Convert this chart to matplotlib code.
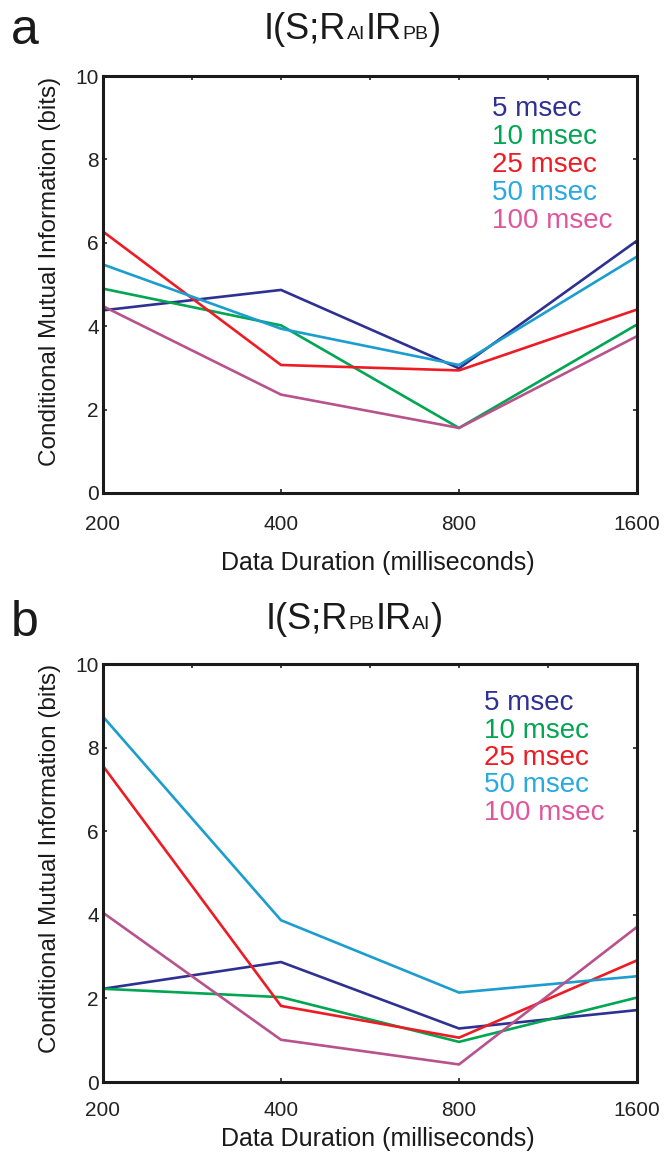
import matplotlib
matplotlib.use("Agg")
import matplotlib.pyplot as plt
from matplotlib.ticker import FixedLocator

plt.rcParams['font.family'] = ['Liberation Sans', 'DejaVu Sans']

durations = ["200", "400", "800", "1600"]
series_names = ["5 msec", "10 msec", "25 msec", "50 msec", "100 msec"]

# panel a: I(S;R_AI | R_PB)
a_5 = [4.38, 4.87, 2.99, 6.05]
a_10 = [4.90, 4.02, 1.56, 4.04]
a_25 = [6.27, 3.07, 2.94, 4.40]
a_50 = [5.48, 3.94, 3.07, 5.67]
a_100 = [4.48, 2.36, 1.56, 3.76]

# panel b: I(S;R_PB | R_AI)
b_5 = [2.23, 2.87, 1.28, 1.72]
b_10 = [2.23, 2.03, 0.96, 2.02]
b_25 = [7.56, 1.82, 1.06, 2.91]
b_50 = [8.74, 3.87, 2.14, 2.53]
b_100 = [4.05, 1.01, 0.42, 3.71]

line_colors = ["#2e3192", "#00a651", "#ed1c24", "#1b9dd0", "#b8528c"]
text_colors = ["#2e3192", "#00a651", "#ed1c24", "#27a9e1", "#e0569c"]

W, H = 670, 1152
fig = plt.figure(figsize=(W / 100, H / 100), dpi=100)


def fx(px):
    return px / W


def fy(py):
    return 1 - py / H


def make_axes(top, bottom, left, right, data, leg_x, leg_y0, leg_dy, xpad):
    ax = fig.add_axes([fx(left), fy(bottom), fx(right) - fx(left), fy(top) - fy(bottom)])
    xs = list(range(len(durations)))
    for vals, c in zip(data, line_colors):
        ax.plot(xs, vals, color=c, lw=1.9, solid_joinstyle='miter')
    ax.set_xlim(0, 3)
    ax.set_ylim(0, 10)
    ax.set_xticks(xs)
    ax.set_xticklabels(durations)
    ax.set_yticks([0, 2, 4, 6, 8, 10])
    ax.xaxis.set_minor_locator(FixedLocator([0.5, 1.5, 2.5]))
    ax.tick_params(axis='both', which='major', direction='in', length=3, width=1.2,
                   labelsize=15, colors='#222222', top=True, right=True)
    ax.tick_params(axis='x', which='minor', direction='in', length=3, width=1.2,
                   bottom=False, top=True, colors='#222222')
    ax.tick_params(axis='y', pad=3)
    ax.tick_params(axis='x', pad=xpad)
    for s in ax.spines.values():
        s.set_linewidth(2.2)
        s.set_color('#1a1a1a')
    for i, (name, c) in enumerate(zip(series_names, text_colors)):
        fig.text(fx(leg_x), fy(leg_y0 + i * leg_dy), name, color=c, fontsize=20,
                 ha='left', va='center')
    return ax


def draw_title(x_start, y_base, parts):
    renderer = fig.canvas.get_renderer()
    x = x_start
    for txt, small in parts:
        size = 14 if small else 26
        t = fig.text(fx(x), fy(y_base), txt, fontsize=size, ha='left',
                     va='baseline', color='#1a1a1a')
        bb = t.get_window_extent(renderer=renderer)
        x += bb.width + 0.5


ax_a = make_axes(76, 493, 103, 637, [a_5, a_10, a_25, a_50, a_100], 492, 109, 28, 16)
ax_b = make_axes(664, 1082, 103, 637, [b_5, b_10, b_25, b_50, b_100], 484, 703, 27.5, 14)

# axis labels via figure text for exact placement
for yc in (271, 858):
    fig.text(fx(50), fy(yc), "Conditional Mutual Information (bits)", fontsize=17.5,
             rotation=90, ha='center', va='center', color='#1a1a1a')
for yc in (563, 1139):
    fig.text(fx(378), fy(yc), "Data Duration (milliseconds)", fontsize=18,
             ha='center', va='center', color='#1a1a1a')

# panel letters
fig.text(fx(11), fy(44), "a", fontsize=36, ha='left', va='baseline', color='#1a1a1a')
fig.text(fx(11), fy(636), "b", fontsize=36, ha='left', va='baseline', color='#1a1a1a')

# titles
draw_title(264, 39, [("I(S;R", False), ("AI", True), ("IR", False), ("PB", True), (")", False)])
draw_title(266, 629, [("I(S;R", False), ("PB", True), ("IR", False), ("AI", True), (")", False)])

fig.savefig("out.png", dpi=100)
